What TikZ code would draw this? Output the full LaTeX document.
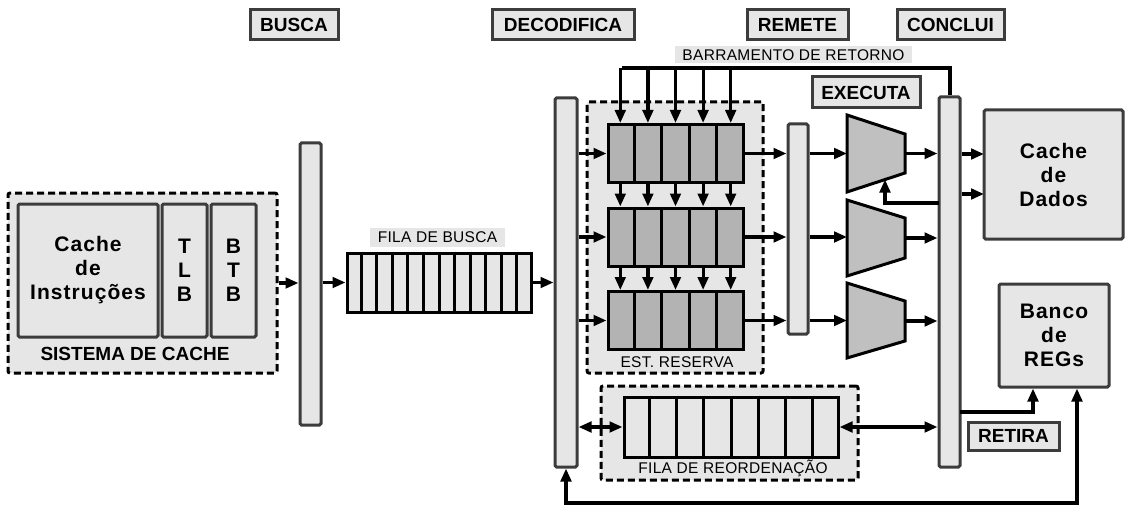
\documentclass[tikz,border=0pt]{standalone}
\usepackage{fontspec}
\setmainfont{Liberation Sans}
\newfontfamily\spacedfont[LetterSpace=5]{Liberation Sans}
\newfontfamily\tagfont[LetterSpace=2]{Liberation Sans}
\usetikzlibrary{arrows.meta,calc}
\definecolor{bord}{RGB}{60,60,60}
\definecolor{lg}{RGB}{230,230,230}
\definecolor{rsg}{RGB}{179,179,179}
\definecolor{alug}{RGB}{192,192,192}
\begin{document}
\begin{tikzpicture}[x=1pt,y=-1pt,
  bar/.style={draw=bord, fill=lg, line width=3pt, rounded corners=1.5pt, inner sep=0pt},
  box/.style={draw=bord, fill=lg, line width=3pt, rounded corners=1.5pt, inner sep=0pt, align=center, font=\spacedfont\bfseries\fontsize{21}{24}\selectfont},
  stage/.style={draw=bord, fill=lg, line width=3pt, inner sep=0pt, minimum height=30pt, font=\bfseries\fontsize{19}{22}\selectfont},
  queue/.style={draw=black, fill=lg, line width=3pt, inner sep=0pt},
  rsrow/.style={draw=black, fill=rsg, line width=3pt, inner sep=0pt, minimum width=135pt, minimum height=58pt},
  dbox/.style={draw=black, fill=lg, line width=3pt, dash pattern=on 7pt off 4pt, rounded corners=2pt, inner sep=0pt},
  tag/.style={fill=lg, inner sep=0pt, font=\tagfont\fontsize{15.5}{17}\selectfont},
  plain/.style={inner sep=0pt, font=\tagfont\fontsize{15.5}{17}\selectfont},
  arr/.style={draw=black, line width=3.2pt, -{Triangle[length=13pt,width=10.5pt]}},
  darr/.style={draw=black, line width=3.2pt, {Triangle[length=13pt,width=10.5pt]}-{Triangle[length=13pt,width=10.5pt]}},
  wire/.style={draw=black, line width=3.2pt},
  divider/.style={draw=black, line width=3pt},
  alu/.style={draw=black, fill=alug, line width=3pt, line join=miter}
]
\useasboundingbox (0,0) rectangle (1134,513);

% dashed groups
\node[dbox, minimum width=269pt, minimum height=180pt] (sys) at (142.5,283) {};
\node[dbox, minimum width=176pt, minimum height=271pt] (rs) at (675,237.5) {};
\node[dbox, minimum width=257pt, minimum height=94pt] (robg) at (729.5,433) {};

% cache system
\node[box, minimum width=140pt, minimum height=133pt] (ci) at (88,270.5) {Cache\\de\\Instruções};
\node[box, minimum width=45pt, minimum height=133pt] (tlb) at (184.5,270.5) {T\\L\\B};
\node[box, minimum width=45pt, minimum height=133pt] (btb) at (233.5,270.5) {B\\T\\B};
\node[inner sep=0pt, font=\bfseries\fontsize{19}{22}\selectfont] (syslbl) at (135,354) {SISTEMA DE CACHE};

% pipeline bars
\node[bar, minimum width=21pt, minimum height=282pt] (b1) at (310.5,284) {};
\node[bar, minimum width=22pt, minimum height=369pt] (b2) at (566,282.5) {};
\node[bar, minimum width=20pt, minimum height=210pt] (b3) at (798,229) {};
\node[bar, minimum width=21pt, minimum height=370pt] (b4) at (949.5,282) {};

% fetch queue
\node[queue, minimum width=184pt, minimum height=59pt] (fq) at (439,282.5) {};
\foreach \i in {1,...,11}
  \draw[divider] ($(fq.north west)!\i/12!(fq.north east)$) -- ($(fq.south west)!\i/12!(fq.south east)$);
\node[tag, minimum width=135pt, minimum height=19pt] (fqlbl) at (437.5,237.5) {FILA DE BUSCA};

% reservation stations
\node[rsrow] (r1) at (675.5,153.5) {};
\node[rsrow] (r2) at (675.5,237) {};
\node[rsrow] (r3) at (675.5,320.5) {};
\foreach \r in {r1,r2,r3}
  \foreach \i in {1,...,4}
    \draw[divider] ($(\r.north west)!\i/5!(\r.north east)$) -- ($(\r.south west)!\i/5!(\r.south east)$);
\node[plain] (rslbl) at (677,362) {EST. RESERVA};

% reorder buffer
\node[queue, minimum width=214pt, minimum height=60pt] (rob) at (731,427) {};
\foreach \i in {1,...,7}
  \draw[divider] ($(rob.north west)!\i/8!(rob.north east)$) -- ($(rob.south west)!\i/8!(rob.south east)$);
\node[plain] (roblbl) at (733,468) {FILA DE REORDENAÇÃO};

% ALUs
\draw[alu] (847,115) -- (905,134) -- (905,173) -- (847,192) -- cycle;
\draw[alu] (847,200) -- (905,218) -- (905,258) -- (847,276) -- cycle;
\draw[alu] (847,283) -- (905,301) -- (905,341) -- (847,358) -- cycle;
\coordinate (alu1in) at (847,153.5);
\coordinate (alu2in) at (847,237);
\coordinate (alu3in) at (847,320.5);
\coordinate (alu1out) at (905,153.5);
\coordinate (alu2out) at (905,238);
\coordinate (alu3out) at (905,321);
\coordinate (fb) at (885,179.5);
\coordinate (fbs) at (939,203);

% right boxes
\node[box, minimum width=139pt, minimum height=129pt] (cd) at (1053.5,174.5) {Cache\\de\\Dados};
\node[box, minimum width=110pt, minimum height=103pt] (bk) at (1054,335.5) {Banco\\de\\REGs};

% stage labels
\node[stage, minimum width=88pt] (busca) at (294,25) {BUSCA};
\node[stage, minimum width=142pt] (deco) at (563,25) {DECODIFICA};
\node[stage, minimum width=101pt] (remete) at (797.5,25) {REMETE};
\node[stage, minimum width=107pt] (conclui) at (950.5,25) {CONCLUI};
\node[stage, minimum width=108pt, minimum height=31pt] (executa) at (866,92.5) {EXECUTA};
\node[stage, minimum width=91pt, minimum height=28pt] (retira) at (1013.5,436) {RETIRA};

% result bus
\node[tag, minimum width=237pt, minimum height=17pt] (buslbl) at (793.5,55) {BARRAMENTO DE RETORNO};
\coordinate (busR) at (950,68);
\coordinate (busL) at (621.5,68);
\draw[wire] (b4.north -| busR) -- (busR) -- (busL);
\foreach \i in {1,...,5} {
  \path ($(r1.north west)!{(\i-0.5)/5}!(r1.north east)$) coordinate (t\i);
  \draw[arr] (t\i |- busL) -- (t\i);
  \path ($(r1.south west)!{(\i-0.5)/5}!(r1.south east)$) coordinate (a\i);
  \draw[arr] (a\i) -- (a\i |- r2.north);
  \path ($(r2.south west)!{(\i-0.5)/5}!(r2.south east)$) coordinate (c\i);
  \draw[arr] (c\i) -- (c\i |- r3.north);
}

% main flow
\draw[arr] (sys.east) -- (b1.west |- sys.east);
\draw[arr] (b1.east |- fq.west) -- (fq.west);
\draw[arr] (fq.east) -- (b2.west |- fq.east);
\foreach \r in {r1,r2,r3} {
  \draw[arr] (b2.east |- \r.west) -- (\r.west);
  \draw[arr] (\r.east) -- (b3.west |- \r.east);
}
\foreach \k in {1,2,3} {
  \draw[arr] (b3.east |- alu\k in) -- (alu\k in);
  \draw[arr] (alu\k out) -- (b4.west |- alu\k out);
}
\draw[arr] (fbs) -| (fb);
\coordinate (cdin1) at (984,154);
\coordinate (cdin2) at (984,194);
\draw[arr] (b4.east |- cdin1) -- (cdin1);
\draw[arr] (b4.east |- cdin2) -- (cdin2);

% reorder connections
\draw[darr] (b2.east |- rob.west) -- (rob.west);
\draw[darr] (rob.east) -- (b4.west |- rob.east);

% retire
\coordinate (rt) at (960,412);
\draw[arr] (rt) -| ([xshift=-21pt]bk.south);
\coordinate (lp) at (566,503);
\draw[darr] (b2.south) -- (b2.south |- lp) -| ([xshift=23pt]bk.south);
\end{tikzpicture}
\end{document}
